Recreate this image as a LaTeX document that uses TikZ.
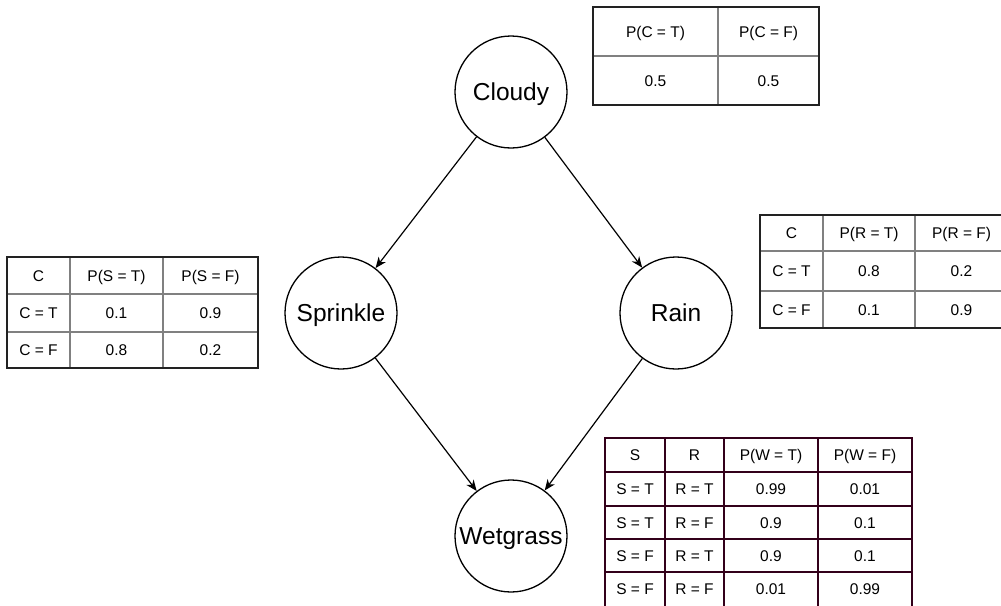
\documentclass[tikz,border=0pt]{standalone}
\usepackage{fontspec}
\setmainfont{Liberation Sans}
\usetikzlibrary{arrows.meta}
\definecolor{wine}{HTML}{33001A}
\definecolor{framegray}{HTML}{222222}
\definecolor{ruleg}{HTML}{808080}
\tikzset{
  bnode/.style={circle, draw=black, line width=1.3pt, minimum size=112pt, inner sep=0pt,
    font=\fontsize{24.5}{28}\selectfont, text height=17.5pt, text depth=0pt},
  link/.style={line width=1.2pt, -{Stealth[length=11pt, width=9pt, inset=3.5pt]}},
  cell/.style={inner sep=0pt, font=\fontsize{15.5}{18}\selectfont, text height=11.1pt, text depth=0pt},
  outerframe/.style={draw=framegray, line width=1.5pt},
  innerrule/.style={draw=ruleg, line width=1.5pt},
  winerule/.style={draw=wine, line width=1.6pt},
}
\begin{document}
\begin{tikzpicture}[x=1pt, y=-1pt]
\useasboundingbox (0,0) rectangle (1001,605);
\clip (0,0) rectangle (1001,605);

% ---- network nodes ----
\node[bnode] (cloudy)   at (511,92)  {Cloudy};
\node[bnode] (sprinkle) at (341,313) {Sprinkle};
\node[bnode] (rain)     at (676,313) {Rain};
\node[bnode] (wet)      at (511,536) {Wetgrass};

\draw[link] (cloudy) -- (sprinkle);
\draw[link] (cloudy) -- (rain);
\draw[link] (sprinkle) -- (wet);
\draw[link] (rain) -- (wet);

% ---- CPT of Cloudy ----
\draw[innerrule] (718,7) -- (718,105);
\draw[innerrule] (593,56) -- (819,56);
\draw[outerframe] (593,7) rectangle (819,105);
\node[cell] (c-h1) at (655.5,31.5) {P(C = T)};
\node[cell] (c-h2) at (768.5,31.5) {P(C = F)};
\node[cell] (c-v1) at (655.5,80.5) {0.5};
\node[cell] (c-v2) at (768.5,80.5) {0.5};

% ---- CPT of Sprinkle ----
\foreach \x in {70,163} \draw[innerrule] (\x,257) -- (\x,368);
\foreach \y in {294,332} \draw[innerrule] (7,\y) -- (258,\y);
\draw[outerframe] (7,257) rectangle (258,368);
\node[cell] (s-h0) at (38.5,275.5)  {C};
\node[cell] (s-h1) at (116.5,275.5) {P(S = T)};
\node[cell] (s-h2) at (210.5,275.5) {P(S = F)};
\node[cell] (s-a0) at (38.5,313)    {C = T};
\node[cell] (s-a1) at (116.5,313)   {0.1};
\node[cell] (s-a2) at (210.5,313)   {0.9};
\node[cell] (s-b0) at (38.5,350)    {C = F};
\node[cell] (s-b1) at (116.5,350)   {0.8};
\node[cell] (s-b2) at (210.5,350)   {0.2};

% ---- CPT of Rain ----
\foreach \x in {823,915} \draw[innerrule] (\x,215) -- (\x,328);
\foreach \y in {251,291} \draw[innerrule] (760,\y) -- (1008,\y);
\draw[outerframe] (760,215) rectangle (1008,328);
\node[cell] (r-h0) at (791.5,233) {C};
\node[cell] (r-h1) at (869,233)   {P(R = T)};
\node[cell] (r-h2) at (961.5,233) {P(R = F)};
\node[cell] (r-a0) at (791.5,271) {C = T};
\node[cell] (r-a1) at (869,271)   {0.8};
\node[cell] (r-a2) at (961.5,271) {0.2};
\node[cell] (r-b0) at (791.5,309.5) {C = F};
\node[cell] (r-b1) at (869,309.5)   {0.1};
\node[cell] (r-b2) at (961.5,309.5) {0.9};

% ---- CPT of Wetgrass ----
\foreach \x in {665,724,818} \draw[winerule] (\x,438) -- (\x,607);
\foreach \y in {472,506,539,572} \draw[winerule] (605,\y) -- (912,\y);
\draw[winerule] (605,438) rectangle (912,607);
\node[cell] (w-h0) at (635,455)   {S};
\node[cell] (w-h1) at (694.5,455) {R};
\node[cell] (w-h2) at (771,455)   {P(W = T)};
\node[cell] (w-h3) at (865,455)   {P(W = F)};
\node[cell] (w-a0) at (635,489)   {S = T};
\node[cell] (w-a1) at (694.5,489) {R = T};
\node[cell] (w-a2) at (771,489)   {0.99};
\node[cell] (w-a3) at (865,489)   {0.01};
\node[cell] (w-b0) at (635,522.5)   {S = T};
\node[cell] (w-b1) at (694.5,522.5) {R = F};
\node[cell] (w-b2) at (771,522.5)   {0.9};
\node[cell] (w-b3) at (865,522.5)   {0.1};
\node[cell] (w-c0) at (635,555.5)   {S = F};
\node[cell] (w-c1) at (694.5,555.5) {R = T};
\node[cell] (w-c2) at (771,555.5)   {0.9};
\node[cell] (w-c3) at (865,555.5)   {0.1};
\node[cell] (w-d0) at (635,589)   {S = F};
\node[cell] (w-d1) at (694.5,589) {R = F};
\node[cell] (w-d2) at (771,589)   {0.01};
\node[cell] (w-d3) at (865,589)   {0.99};
\end{tikzpicture}
\end{document}
